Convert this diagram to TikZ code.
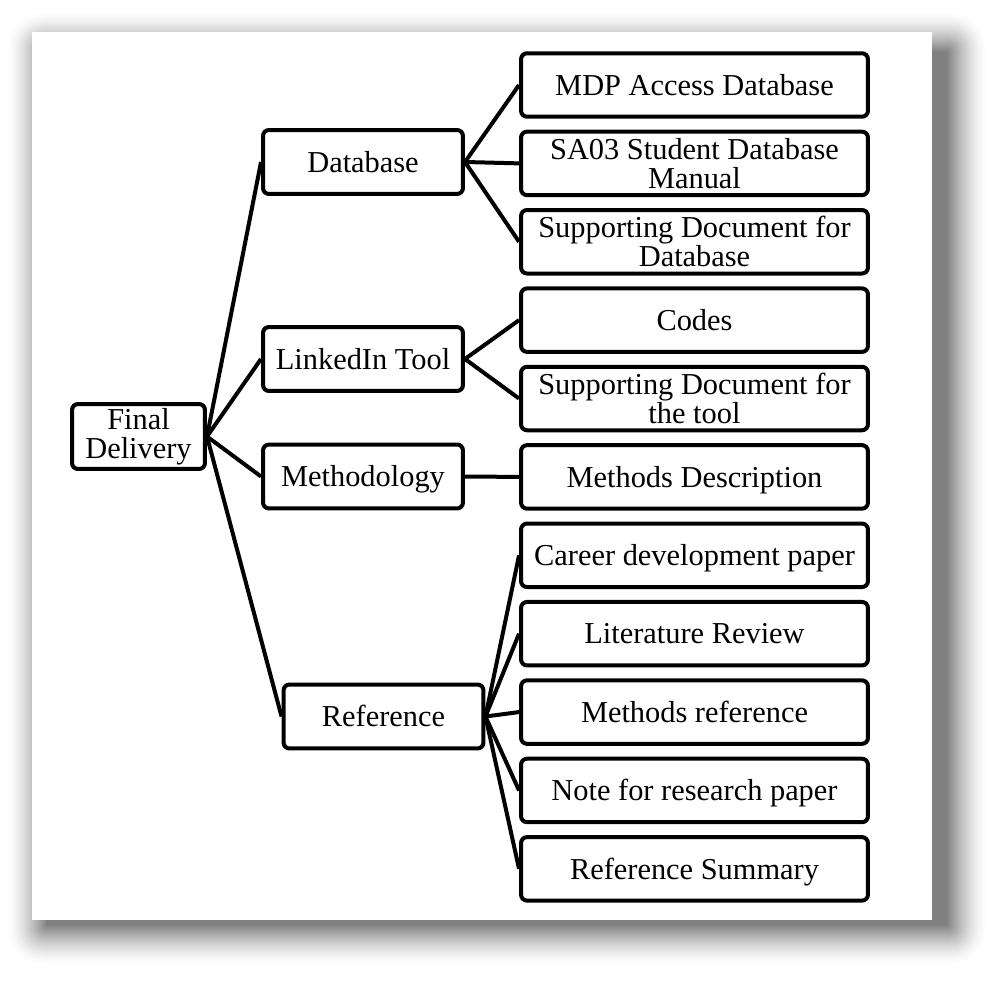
\documentclass[tikz,border=0pt]{standalone}
\usepackage{fontspec}
\setmainfont{Liberation Serif}
\usetikzlibrary{positioning}

\begin{document}
\begin{tikzpicture}[x=0.02cm, y=-0.02cm,
    leaf/.style={draw, rounded corners=0.12cm, line width=0.08cm, fill=white,
      minimum width=6.94cm, minimum height=1.27cm, align=center, inner sep=1pt,
      font=\fontsize{17.3}{16.5}\selectfont},
    one/.style={text height=11.6pt, text depth=0pt},
    branch/.style={leaf, one, minimum width=4.0cm, minimum height=1.28cm},
    root/.style={leaf, minimum width=2.66cm, minimum height=1.30cm},
    link/.style={line width=0.08cm}, node distance=0.218cm]
  \useasboundingbox[fill=white] (0,0) rectangle (997,986);
  % soft shadow behind the card, light rings first
  \foreach \r in {39,...,0}{
    \pgfmathsetmacro\shade{50*(1-\r/40)^1.5}
    \fill[black!\shade, rounded corners=\r*0.5pt]
      (47-\r,52-\r) rectangle (947+\r,925+\r);
  }
  \fill[white] (32,32) rectangle (932,920);

  \node[root] (final) at (138.5,436.5) {Final\\Delivery};
  \node[branch] (db) at (363,162) {Database};
  \node[branch] (li) at (363,359) {LinkedIn Tool};
  \node[branch] (meth) at (363,476.5) {Methodology};
  \node[branch] (ref) at (383.5,716.5) {Reference};

  \node[leaf, one] (mdp) at (694.5,85) {MDP Access Database};
  \node[leaf, below=of mdp] (sa) {SA03 Student Database\\Manual};
  \node[leaf, below=of sa] (sdd) {Supporting Document for\\Database};
  \node[leaf, one, below=of sdd] (codes) {Codes};
  \node[leaf, below=of codes] (sdt) {Supporting Document for\\the tool};
  \node[leaf, one, below=of sdt] (md) {Methods Description};
  \node[leaf, one, below=of md] (cdp) {Career development paper};
  \node[leaf, one, below=of cdp] (lr) {Literature Review};
  \node[leaf, one, below=of lr] (mr) {Methods reference};
  \node[leaf, one, below=of mr] (nrp) {Note for research paper};
  \node[leaf, one, below=of nrp] (rs) {Reference Summary};

  \foreach \b in {db, li, meth, ref}
    \draw[link] (final.east) -- (\b.west);
  \foreach \c in {mdp, sa, sdd}
    \draw[link] (db.east) -- (\c.west);
  \foreach \c in {codes, sdt}
    \draw[link] (li.east) -- (\c.west);
  \draw[link] (meth.east) -- (md.west);
  \foreach \c in {cdp, lr, mr, nrp, rs}
    \draw[link] (ref.east) -- (\c.west);
\end{tikzpicture}
\end{document}
